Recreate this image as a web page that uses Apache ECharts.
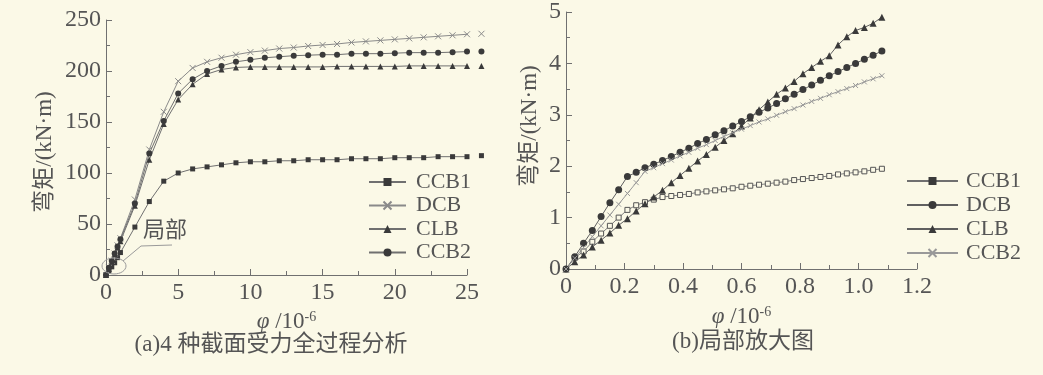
<!DOCTYPE html>
<html><head><meta charset="utf-8">
<script src="https://cdn.jsdelivr.net/npm/echarts/dist/echarts.min.js"></script>
<style>html,body{margin:0;padding:0;background:#fbf9e7}#c{width:1043px;height:375px}</style>
</head><body><div id="c"></div><script>
// ---- (a) full process, curvature 10^-6 vs moment kN·m
const leftX = [0,0.2,0.4,0.6,0.8,1,2,3,4,5,6,7,8,9,10,11,12,13,14,15,16,17,18,19,20,21,22,23,24,25,26,26.8];
const ccb1L = [0,4,8,12,17,22,47,72,92,100,104,106,108,110,111,111,112,112,113,113,113,114,114,114,115,115,115,116,116,116,117,117];
const dcbL  = [0,7,14,21,29,36,74,123,160,190,203,209,213,216,218.5,220,222,223,224.5,225.5,226.5,228,229,230,231,232,233,234,235,236,236.5,237];
const clbL  = [0,6,13,20,27,33,68,113,148,172,187,197,201.5,203.5,204,204,204,204,204,204,204.5,204.5,204.5,204.5,204.5,205,205,205,205,205,205,205];
const ccb2L = [0,7,14,21,28,35,70,119,151,178,192,200,205,209,211,213,214,215,215.5,216,216,217,217,217,217.5,218,218,218,218.5,219,219,219];
// ---- (b) local enlargement
const rightX = [0,0.03,0.06,0.09,0.12,0.15,0.18,0.21,0.24,0.27,0.30,0.33,0.36,0.39,0.42,0.45,0.48,0.51,0.54,0.57,0.60,0.63,0.66,0.69,0.72,0.75,0.78,0.81,0.84,0.87,0.90,0.93,0.96,0.99,1.02,1.05,1.08];
const ccb1R = [0,0.22,0.34,0.53,0.69,0.84,1.0,1.15,1.24,1.30,1.35,1.40,1.42,1.44,1.46,1.49,1.51,1.53,1.55,1.57,1.60,1.62,1.64,1.66,1.68,1.70,1.73,1.75,1.77,1.79,1.81,1.84,1.86,1.88,1.90,1.93,1.95];
const dcbR  = [0,0.24,0.50,0.75,1.02,1.29,1.54,1.80,1.88,1.97,2.04,2.11,2.19,2.27,2.35,2.44,2.52,2.61,2.69,2.78,2.87,2.96,3.05,3.13,3.22,3.31,3.40,3.49,3.58,3.67,3.76,3.84,3.92,4.00,4.08,4.16,4.24];
const clbR  = [0,0.14,0.27,0.43,0.56,0.70,0.85,0.98,1.13,1.27,1.40,1.53,1.68,1.82,1.96,2.10,2.23,2.37,2.50,2.63,2.78,2.94,3.10,3.25,3.40,3.52,3.65,3.80,3.92,4.04,4.15,4.36,4.52,4.64,4.70,4.78,4.90];
const ccb2R = [0,0.21,0.42,0.63,0.84,1.05,1.26,1.47,1.68,1.90,1.97,2.05,2.12,2.20,2.27,2.35,2.42,2.50,2.58,2.65,2.72,2.79,2.86,2.92,2.99,3.06,3.12,3.19,3.26,3.32,3.39,3.45,3.51,3.57,3.64,3.70,3.76];
const legendNames = ['CCB1','DCB','CLB','CCB2'];
const xTicksR = ['0','0.2','0.4','0.6','0.8','1.0','1.2'];

const BG = '#fbf9e7';
const SERIF = '"Liberation Serif","Noto Sans CJK SC",serif';
const TXT = '#555';
const AX = '#707070';
const CROSS = 'path://M0 0L10 10M10 0L0 10';

function pairs(xs, ys, lastNoSymbol){
  return xs.map((x,i)=>{
    if (lastNoSymbol && i === xs.length-1) return {value:[x, ys[i]], symbol:'none'};
    return [x, ys[i]];
  });
}
function ser(name, xs, ys, idx, symbol, size, lineColor, mk, extra){
  return Object.assign({
    name, type:'line', xAxisIndex:idx, yAxisIndex:idx,
    data: pairs(xs, ys, idx===0), symbol, symbolSize:size, clip:false,
    lineStyle:{color:lineColor, width:1},
    itemStyle:{color:mk, borderColor:mk, borderWidth: symbol===CROSS?1:0},
    animation:false, z:3
  }, extra||{});
}

function axisBase(gi, min, max, interval){
  return {
    type:'value', gridIndex:gi, min, max, interval,
    axisLine:{show:true, onZero:false, lineStyle:{color:AX, width:1}},
    axisTick:{show:true, inside:true, length:6, lineStyle:{color:AX}},
    minorTick:{show:true, splitNumber:2, length:4, lineStyle:{color:AX}},
    splitLine:{show:false}, minorSplitLine:{show:false},
    axisLabel:{fontFamily:SERIF, fontSize:24, color:TXT, margin:6}
  };
}
const xNameRich = {
  i:{fontFamily:SERIF, fontSize:23, fontStyle:'italic', color:TXT},
  t:{fontFamily:SERIF, fontSize:23, color:TXT},
  s:{fontFamily:SERIF, fontSize:14, color:TXT, verticalAlign:'top', padding:[0,0,10,0]}
};

const xa0 = Object.assign(axisBase(0,0,25,5), {name:'{i|φ}{t| /10}{s|-6}', nameLocation:'middle', nameGap:34, nameTextStyle:{rich:xNameRich}});
const ya0 = axisBase(0,0,250,50);
ya0.axisLabel.margin = 5;
const xa1 = Object.assign(axisBase(1,0,1.2,0.2), {name:'{i|φ}{t| /10}{s|-6}', nameLocation:'middle', nameGap:36, nameTextStyle:{rich:xNameRich}});
xa1.axisLabel.formatter = v => xTicksR[Math.round(v/0.2)];
const ya1 = axisBase(1,0,5,1);
ya1.axisLabel.margin = 5;

const legendCommon = {
  orient:'vertical', itemWidth:37, itemHeight:10, itemGap:1.5,
  textStyle:{fontFamily:SERIF, fontSize:22, color:TXT, padding:[0,0,0,5]},
  formatter: n => n.replace('b-','')
};

const option = {
  backgroundColor: BG,
  animation:false,
  grid:[
    {left:106, top:20, width:361, height:255},
    {left:566, top:10, width:351, height:259}
  ],
  xAxis:[xa0, xa1],
  yAxis:[ya0, ya1],
  legend:[
    Object.assign({left:363, top:166, data:legendNames}, legendCommon),
    Object.assign({left:901, top:165, data:legendNames.map(n=>'b-'+n)}, legendCommon,
      {itemWidth:51, itemGap:2, textStyle:{fontFamily:SERIF, fontSize:22, color:TXT, padding:[0,0,0,3]}})
  ],
  series:[
    ser('CCB1', leftX, ccb1L, 0, 'rect', 5, '#707070', '#3a3a3a'),
    ser('DCB',  leftX, dcbL,  0, CROSS, 6, '#8a8a8a', '#8a8a8a'),
    ser('CLB',  leftX, clbL,  0, 'triangle', 6, '#707070', '#3a3a3a'),
    ser('CCB2', leftX, ccb2L, 0, 'circle', 6, '#707070', '#3a3a3a'),
    // legend representative for hollow-square series in (b)
    {name:'b-CCB1', type:'line', xAxisIndex:1, yAxisIndex:1, data:[], symbol:'rect', symbolSize:8,
     lineStyle:{color:'#707070', width:1}, itemStyle:{color:'#3a3a3a'}},
    ser('b-CCB1', rightX, ccb1R, 1, 'rect', 5, '#808080', BG, {itemStyle:{color:BG, borderColor:'#555', borderWidth:1}}),
    ser('b-DCB',  rightX, dcbR,  1, 'circle', 7, '#606060', '#3a3a3a'),
    ser('b-CLB',  rightX, clbR,  1, 'triangle', 7, '#606060', '#3a3a3a'),
    ser('b-CCB2', rightX, ccb2R, 1, CROSS, 5, '#999999', '#999999')
  ],
  graphic:[
    {type:'ellipse', shape:{cx:114, cy:266, rx:12, ry:8}, style:{fill:'none', stroke:'#9a9a9a', lineWidth:1}, z:10},
    {type:'polyline', shape:{points:[[123,261],[141,246],[172,245]]}, style:{fill:'none', stroke:'#9a9a9a', lineWidth:1}, z:10},
    {type:'text', x:143, y:218, style:{text:'局部', font:'22px "Noto Sans CJK SC"', fill:TXT}, z:10},
    {type:'text', x:45, y:152, rotation:Math.PI/2, style:{text:'弯矩/(kN·m)', font:'23px "Liberation Serif","Noto Sans CJK SC"', fill:TXT, textAlign:'center', textVerticalAlign:'middle'}},
    {type:'text', x:530, y:126, rotation:Math.PI/2, style:{text:'弯矩/(kN·m)', font:'23px "Liberation Serif","Noto Sans CJK SC"', fill:TXT, textAlign:'center', textVerticalAlign:'middle'}},
    {type:'text', x:271, y:345, style:{text:'(a)4 种截面受力全过程分析', font:'23px "Liberation Serif","Noto Sans CJK SC"', fill:TXT, textAlign:'center', textVerticalAlign:'middle'}},
    {type:'text', x:743, y:342, style:{text:'(b)局部放大图', font:'23px "Liberation Serif","Noto Sans CJK SC"', fill:TXT, textAlign:'center', textVerticalAlign:'middle'}}
  ]
};
const chart = echarts.init(document.getElementById('c'), null, {renderer:'canvas'});
chart.setOption(option);
</script></body></html>
